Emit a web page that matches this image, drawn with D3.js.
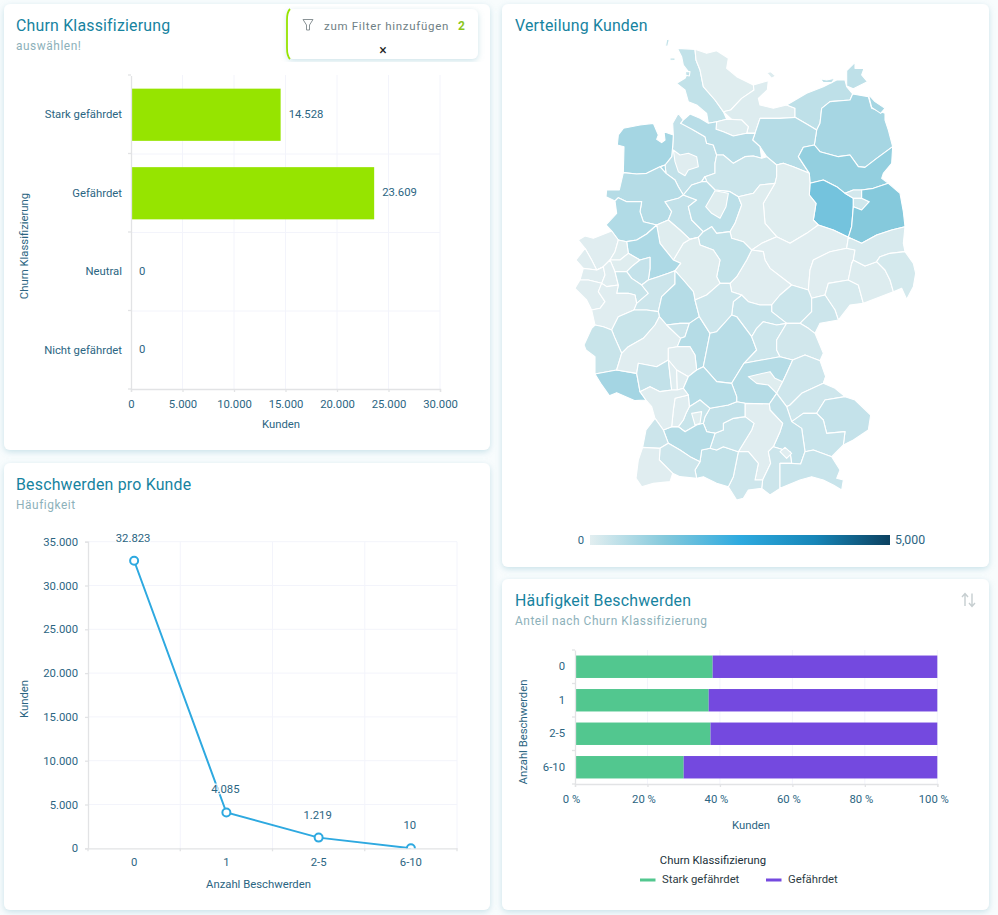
<!DOCTYPE html>
<html>
<head>
<meta charset="utf-8">
<title>Churn Dashboard</title>
<style>
  html, body { margin: 0; padding: 0; background: #f8fcfd; }
  svg { display: block; }
  text { font-family: Roboto, sans-serif; }
  .title { font-size: 15.9px; fill: #17839f; letter-spacing: .2px; }
  .sub { font-size: 11.9px; fill: #8db1ba; letter-spacing: .55px; }
  .lbl { font-size: 11.3px; fill: #2b6582; }
  .grid line { stroke: #f3f4fb; stroke-width: 1; }
  .axis path, .axis line { stroke: #e2e3e5; stroke-width: 1.3; }
  .axis text { font-size: 11.3px; fill: #2b6582; font-family: Roboto, sans-serif; }
  .region { stroke: #fff; stroke-width: 1.1; stroke-linejoin: round; }
</style>
</head>
<body>
<svg width="998" height="915"></svg>
<script src="https://cdnjs.cloudflare.com/ajax/libs/d3/7.8.5/d3.min.js"></script>
<script>
// chart 1
const churnCategories = ["Stark gefährdet", "Gefährdet", "Neutral", "Nicht gefährdet"];
const churnValues = [14528, 23609, 0, 0];
const churnTicks = [0, 5000, 10000, 15000, 20000, 25000, 30000];

// chart 2
const complaintCategories = ["0", "1", "2-5", "6-10"];
const complaintValues = [32823, 4085, 1219, 10];
const complaintTicks = [0, 5000, 10000, 15000, 20000, 25000, 30000, 35000];

// chart 4, share in percent
const shareStark = [38, 36.9, 37.4, 30];
const shareGefaehrdet = [62, 63.1, 62.6, 70];
const shareTicks = [0, 20, 40, 60, 80, 100];
const shareSeries = ["Stark gefährdet", "Gefährdet"];

// map: customers per region, same order as regionIds
const regionIds = ["a","a1","a2","a3","b","c","c1","d","e","e1","e2","f","f1","g","h","i","j","j1","k",
  "l","l1","m","n","o","p","q","r","s","t","t1","u","v1","v2","w1","w2","w3","x1","x2","y1","y2","y3",
  "z","ra","rb1","rb2","rb3","rc1","rc2","rc3","rd","re","rg","rh","ri","rj","rk","rl","rm","rn","ro","rp",
  "rq","rr1","rr2","th1","th2","th3","ful","rs","rt","ru","rv","rw","rx","ry","rz","sa","sb","sc",
  "sf","sd","se","sg","sh2","si","sj","sk","sl","sm","sn","so","sp","sq","sr","ss"];
const regionValues = [420,420,420,420,40,60,60,60,480,480,480,800,800,600,1050,1480,200,250,1240,
  430,30,560,810,300,40,600,650,430,520,40,40,30,30,30,140,60,130,180,420,40,40,
  700,30,40,40,400,30,30,30,350,30,30,290,600,350,350,830,30,290,600,30,
  430,30,30,300,290,340,280,560,280,230,600,40,260,260,400,340,430,30,
  290,30,340,260,420,340,430,580,350,40,600,30,30,290,270,30];

// these sit inside a neighbour or off the coast, they keep their traced outline
const looseRegions = ["a1","a2","a3","c1","e1","e2","f1","l1","t1","rw","sd","sm"];

// outlines, in trace units
const regionOutlines = {
  a: [[[352,55],[405,58],[408,90],[420,120],[430,170],[465,210],[490,245],[500,268],[470,275],[440,250],[410,225],[385,215],[375,180],[350,160],[375,145],[385,125],[370,105],[365,80]]],
  a1: [[[320,28],[328,30],[322,52],[317,46]]],
  a2: [[[330,84],[345,84],[345,92],[330,90]]],
  a3: [[[376,125],[390,125],[388,138],[378,136]]],
  b: [[[405,58],[440,70],[470,62],[505,85],[500,115],[530,140],[580,165],[582,180],[545,205],[512,240],[490,245],[465,210],[430,170],[420,120],[408,90]]],
  c: [[[582,180],[625,152],[622,180],[595,205],[600,225],[640,235],[680,225],[705,235],[705,262],[660,265],[600,265],[585,310],[565,290],[545,270],[515,268],[512,240],[545,205]]],
  c1: [[[620,128],[632,125],[647,138],[635,145]]],
  d: [[[500,268],[515,268],[545,270],[565,290],[585,310],[560,310],[520,318],[490,305],[468,298]]],
  e: [[[685,215],[740,190],[790,170],[830,150],[855,150],[860,170],[878,192],[870,210],[810,215],[785,235],[780,280],[770,300],[745,285],[705,262],[705,235]]],
  e1: [[[860,122],[885,97],[885,115],[912,115],[905,135],[922,155],[880,176],[860,168]]],
  e2: [[[780,146],[800,150],[825,145],[815,158],[790,158]]],
  f: [[[785,235],[810,215],[870,210],[880,195],[925,200],[935,235],[975,250],[975,270],[985,300],[998,350],[950,385],[915,412],[895,410],[870,375],[835,380],[780,365],[763,345],[770,300],[780,280]]],
  f1: [[[925,193],[945,215],[975,235],[962,250],[935,232]]],
  g: [[[600,265],[660,265],[705,262],[745,285],[770,300],[763,345],[730,352],[715,380],[748,430],[700,410],[670,400],[620,380],[600,350],[578,330],[585,310]]],
  h: [[[730,352],[763,345],[780,365],[835,380],[870,375],[895,410],[915,412],[950,385],[998,350],[995,400],[970,430],[965,445],[985,460],[940,475],[905,480],[880,480],[855,490],[830,470],[790,450],[750,460],[748,430],[715,380]]],
  i: [[[750,460],[790,450],[830,470],[855,490],[880,505],[880,530],[875,590],[865,622],[820,600],[760,570],[768,520],[748,495]]],
  j: [[[855,490],[880,478],[905,480],[905,505],[880,505]]],
  j1: [[[880,505],[905,505],[928,515],[905,540],[880,530]]],
  k: [[[905,480],[940,475],[985,460],[1020,490],[1030,545],[1035,590],[995,600],[950,615],[905,640],[875,622],[880,530],[905,540],[928,515],[905,505]]],
  l: [[[338,280],[355,250],[370,270],[362,280],[400,300],[435,320],[440,340],[460,345],[470,375],[465,400],[465,430],[435,440],[425,455],[395,465],[370,495],[355,470],[345,450],[318,430],[315,405],[335,380],[338,350]]],
  l1: [[[340,360],[360,375],[385,370],[410,380],[415,410],[385,420],[375,437],[355,425],[345,395]]],
  m: [[[362,280],[370,258],[390,252],[420,265],[445,280],[468,298],[490,305],[520,318],[560,310],[585,310],[578,330],[600,350],[605,385],[580,378],[555,380],[520,400],[490,375],[470,375],[460,345],[440,340],[435,320],[400,300]]],
  n: [[[175,315],[190,295],[240,285],[280,280],[295,315],[290,328],[305,338],[315,330],[312,305],[340,315],[338,350],[335,380],[315,405],[318,430],[300,410],[260,430],[230,432],[190,428],[192,350],[172,345]]],
  o: [[[470,375],[490,375],[520,400],[555,380],[580,378],[605,385],[650,405],[675,405],[650,440],[645,460],[600,465],[580,490],[535,500],[510,485],[465,480],[440,455],[435,440],[465,430],[465,400]]],
  p: [[[675,405],[700,410],[748,430],[750,460],[748,495],[768,520],[760,570],[775,585],[740,610],[690,640],[650,620],[615,580],[610,520],[645,460],[650,440]]],
  q: [[[190,428],[230,432],[260,430],[300,410],[318,430],[345,450],[355,470],[370,495],[355,505],[315,515],[335,545],[325,570],[290,585],[250,575],[240,545],[245,515],[200,515],[175,503],[165,513],[138,500],[140,480],[178,480],[180,435]]],
  r: [[[175,503],[200,515],[245,515],[240,545],[250,575],[290,585],[260,612],[230,630],[200,635],[175,630],[138,585],[170,550]]],
  s: [[[315,515],[355,505],[362,500],[410,510],[385,530],[395,570],[430,605],[415,622],[390,628],[360,600],[325,570],[335,545]]],
  t: [[[362,500],[370,495],[395,465],[425,455],[440,455],[465,480],[505,490],[535,500],[545,525],[525,580],[510,605],[470,610],[455,590],[430,605],[395,570],[385,530],[410,510]]],
  t1: [[[437,530],[465,482],[505,490],[498,530],[480,565],[455,550]]],
  u: [[[535,500],[580,490],[600,465],[645,460],[610,520],[615,580],[640,615],[605,640],[575,660],[550,635],[515,625],[510,605],[525,580],[545,525]]],
  v1: [[[605,640],[640,615],[650,620],[690,640],[740,610],[775,585],[820,600],[865,622],[860,655],[810,665],[760,690],[750,720],[755,805],[745,780],[695,765],[630,715],[615,690],[610,665],[575,660]]],
  v2: [[[575,660],[610,665],[615,690],[630,715],[695,765],[660,795],[635,825],[600,825],[565,815],[545,795],[515,785],[530,740],[560,690]]],
  w1: [[[750,720],[760,690],[810,665],[860,655],[885,660],[880,690],[875,700],[865,750],[805,760],[795,795],[760,805],[750,780]]],
  w2: [[[805,760],[865,750],[895,765],[910,820],[870,825],[835,870],[825,840],[795,795]]],
  w3: [[[865,750],[875,700],[915,708],[950,695],[975,720],[990,750],[1000,785],[910,820],[895,765]]],
  x1: [[[860,655],[865,622],[875,622],[905,640],[950,615],[995,600],[1035,590],[1030,640],[1035,665],[990,670],[960,680],[950,695],[915,708],[875,700],[880,690],[885,660]]],
  x2: [[[960,680],[990,670],[1035,665],[1060,700],[1067,730],[1060,770],[1040,808],[1025,775],[1000,785],[990,750],[975,720],[950,695]]],
  y1: [[[415,622],[430,605],[455,590],[470,610],[510,605],[515,625],[550,635],[575,660],[560,690],[530,740],[510,760],[480,760],[470,740],[480,690],[460,660],[420,645]]],
  y2: [[[415,622],[420,645],[460,660],[480,690],[470,740],[480,760],[440,795],[405,810],[400,785],[370,750],[345,722],[362,700],[340,690],[370,640]]],
  y3: [[[290,585],[325,570],[360,600],[390,628],[415,622],[370,640],[340,690],[300,640]]],
  z: [[[230,630],[260,612],[290,585],[300,640],[340,690],[362,700],[345,722],[325,730],[295,740],[265,750],[270,715],[270,682],[240,690],[205,670],[200,635]]],
  ra: [[[55,630],[75,618],[100,625],[155,603],[175,630],[165,665],[150,690],[130,710],[110,720],[95,690],[75,655]]],
  rb1: [[[175,630],[200,635],[205,670],[180,690],[150,690],[165,665]]],
  rb2: [[[180,690],[205,670],[240,690],[215,710],[200,725],[165,725],[150,690]]],
  rb3: [[[215,710],[240,690],[270,682],[270,715],[265,750],[245,765],[215,745],[200,725]]],
  rc1: [[[75,655],[95,690],[110,720],[70,715],[48,690]]],
  rc2: [[[70,715],[110,720],[135,735],[125,760],[85,750],[60,750]]],
  rc3: [[[110,720],[130,710],[150,690],[165,725],[175,765],[140,770],[125,760],[135,735]]],
  rd: [[[165,725],[200,725],[215,745],[245,765],[265,790],[230,820],[225,795],[205,790],[170,790],[175,765]]],
  re: [[[45,775],[60,750],[85,750],[125,760],[115,785],[135,815],[120,835],[95,840],[80,810]]],
  rg: [[[120,835],[135,815],[115,785],[125,760],[140,770],[175,765],[170,790],[205,790],[225,795],[230,820],[222,840],[175,860],[155,900],[105,885],[95,840]]],
  rh: [[[265,750],[295,740],[325,730],[345,722],[345,762],[305,800],[295,845],[260,840],[222,840],[230,820],[265,790],[245,765]]],
  ri: [[[305,800],[345,762],[345,722],[370,750],[400,785],[405,810],[418,860],[388,880],[360,880],[320,885],[298,860],[295,845]]],
  rj: [[[155,900],[175,860],[222,840],[260,840],[295,845],[298,860],[285,885],[250,925],[205,950],[185,970],[165,925]]],
  rk: [[[72,945],[95,895],[105,885],[130,890],[155,900],[165,925],[185,970],[170,1020],[105,1032],[105,980],[78,960]]],
  rl: [[[100,1035],[170,1020],[230,1030],[240,1085],[258,1110],[225,1112],[170,1088],[148,1097],[122,1060]]],
  rm: [[[170,1020],[185,970],[205,950],[250,925],[285,885],[298,860],[320,885],[362,925],[352,950],[325,955],[325,990],[290,1010],[235,1000],[230,1030]]],
  rn: [[[320,885],[360,880],[388,880],[375,920],[362,925]]],
  ro: [[[388,880],[418,860],[450,910],[440,960],[430,1010],[410,1020],[405,975],[390,950],[352,950],[362,925],[375,920]]],
  rp: [[[325,955],[352,950],[390,950],[405,975],[410,1020],[385,1040],[350,1020],[325,990]]],
  rq: [[[230,1030],[235,1000],[290,1010],[325,990],[335,1080],[300,1085],[270,1070],[240,1085]]],
  rr1: [[[325,990],[350,1020],[352,1080],[335,1080]]],
  rr2: [[[350,1020],[385,1040],[410,1020],[420,1025],[370,1075],[352,1080]]],
  th1: [[[695,765],[745,780],[755,805],[755,845],[720,880],[680,880],[635,845],[630,830],[660,795]]],
  th2: [[[795,795],[825,840],[830,870],[780,880],[765,910],[745,895],[720,880],[755,845],[755,805]]],
  th3: [[[545,795],[565,815],[600,825],[635,845],[680,880],[650,885],[610,875],[590,895],[575,920],[530,860],[515,855],[520,815]]],
  ful: [[[480,760],[510,760],[515,785],[545,795],[520,815],[515,855],[470,905],[450,910],[418,860],[405,810],[440,795]]],
  rs: [[[450,910],[470,905],[515,855],[530,860],[575,920],[590,960],[552,1000],[515,1060],[470,1055],[435,1012],[430,1010],[440,960]]],
  rt: [[[590,895],[610,875],[650,885],[680,880],[650,930],[650,960],[660,980],[605,990],[552,1000],[590,960],[575,920]]],
  ru: [[[680,880],[720,880],[745,895],[790,970],[780,992],[735,975],[698,990],[660,980],[650,960],[650,930]]],
  rv: [[[515,1060],[552,1000],[605,990],[660,980],[698,990],[680,1030],[668,1055],[650,1090],[628,1122],[555,1120],[530,1115],[530,1100]]],
  rw: [[[565,1040],[630,1025],[645,1045],[668,1055],[650,1090],[625,1065],[590,1060]]],
  rx: [[[698,990],[735,975],[780,992],[797,1040],[790,1060],[725,1090],[690,1125],[680,1130],[650,1090],[668,1055],[680,1030]]],
  ry: [[[797,1040],[825,1075],[855,1100],[795,1110],[770,1150],[730,1150],[695,1175],[680,1130],[690,1125],[725,1090],[790,1060]]],
  rz: [[[795,1110],[855,1100],[885,1110],[932,1155],[925,1200],[880,1230],[850,1245],[855,1205],[800,1210],[790,1170],[770,1150]]],
  sa: [[[695,1175],[730,1150],[770,1150],[790,1170],[800,1210],[855,1205],[850,1245],[815,1280],[760,1260],[735,1265],[725,1195]]],
  sb: [[[628,1122],[650,1090],[680,1130],[695,1175],[725,1195],[735,1265],[722,1302],[695,1300],[690,1265],[640,1250],[660,1205],[668,1180],[630,1140]]],
  sc: [[[555,1120],[628,1122],[630,1140],[668,1180],[660,1205],[640,1250],[625,1265],[632,1300],[608,1350],[585,1350],[595,1300],[565,1265],[535,1265],[575,1200],[582,1180],[555,1160]]],
  sf: [[[640,1250],[690,1265],[695,1300],[660,1300],[660,1375],[630,1395],[605,1375],[608,1350],[632,1300],[625,1265]]],
  sd: [[[660,1265],[675,1252],[695,1270],[680,1285]]],
  se: [[[660,1300],[695,1300],[722,1302],[735,1265],[760,1260],[815,1280],[840,1320],[830,1345],[850,1350],[845,1380],[820,1365],[790,1350],[755,1340],[720,1350],[660,1375]]],
  sg: [[[525,1270],[535,1265],[565,1265],[595,1300],[585,1350],[608,1350],[605,1375],[565,1380],[550,1405],[530,1410],[505,1370],[520,1340]]],
  sh2: [[[425,1260],[450,1255],[470,1260],[490,1250],[525,1270],[520,1340],[505,1370],[470,1360],[430,1340],[405,1320],[420,1295]]],
  si: [[[490,1180],[520,1165],[555,1160],[582,1180],[575,1200],[535,1265],[525,1270],[490,1250],[470,1260],[450,1255],[465,1210],[490,1200]]],
  sj: [[[435,1160],[450,1135],[505,1125],[530,1115],[555,1120],[555,1160],[520,1165],[490,1180],[490,1200],[465,1210],[430,1180]]],
  sk: [[[370,1075],[420,1025],[435,1012],[470,1055],[515,1060],[530,1100],[530,1115],[505,1125],[450,1135],[420,1110],[388,1130],[385,1095]]],
  sl: [[[388,1130],[420,1110],[450,1135],[435,1160],[430,1180],[465,1210],[440,1205],[410,1185],[375,1205],[370,1170],[378,1150]]],
  sm: [[[395,1150],[425,1145],[420,1180],[405,1185]]],
  sn: [[[310,1200],[335,1190],[355,1190],[375,1205],[410,1185],[440,1205],[465,1210],[450,1255],[425,1260],[420,1295],[390,1280],[360,1260],[325,1240]]],
  so: [[[345,1105],[385,1095],[388,1130],[378,1150],[370,1170],[375,1205],[355,1190],[335,1190],[340,1140]]],
  sp: [[[258,1110],[240,1085],[270,1070],[300,1085],[335,1080],[352,1080],[370,1075],[385,1095],[345,1105],[340,1140],[335,1190],[310,1200],[285,1165],[275,1130]]],
  sq: [[[285,1165],[310,1200],[325,1240],[300,1255],[248,1252],[258,1200]]],
  sr: [[[300,1258],[325,1240],[360,1260],[390,1280],[420,1295],[405,1320],[410,1345],[360,1340],[338,1330],[298,1290]]],
  ss: [[[248,1255],[300,1258],[298,1290],[338,1330],[330,1355],[280,1360],[245,1370],[228,1345],[235,1290]]]
};

const legendStops = [0, 1250, 2500, 3750, 5000];
const legendColors = ["#e2eef0", "#84c9dc", "#2eaadf", "#1786b8", "#0c4160"];

// the tracing is by hand, so neighbours do not share their corners: pull corners
// together and add each corner to the neighbour's edge, which closes the slivers
function conformRings(ids, vertexTol, edgeTol) {
  const rings = {};
  ids.forEach(id => { rings[id] = regionOutlines[id][0].map(p => p.slice()); });
  const shared = ids.filter(id => looseRegions.indexOf(id) < 0);

  shared.forEach((a, i) => {
    shared.slice(i + 1).forEach(b => {
      rings[a].forEach(p => {
        rings[b].forEach(q => {
          if (Math.hypot(p[0] - q[0], p[1] - q[1]) < vertexTol) { q[0] = p[0]; q[1] = p[1]; }
        });
      });
    });
  });

  for (let pass = 0; pass < 2; pass++) {
    shared.forEach(a => {
      const out = [];
      rings[a].forEach((p, k) => {
        const q = rings[a][(k + 1) % rings[a].length];
        const dx = q[0] - p[0], dy = q[1] - p[1], len2 = dx * dx + dy * dy;
        out.push(p);
        if (!len2) return;
        const extra = [];
        shared.forEach(b => {
          if (b === a) return;
          rings[b].forEach(v => {
            const t = ((v[0] - p[0]) * dx + (v[1] - p[1]) * dy) / len2;
            if (t <= 0.02 || t >= 0.98) return;
            const d = Math.hypot(p[0] + t * dx - v[0], p[1] + t * dy - v[1]);
            if (d < edgeTol) extra.push({ t: t, v: v });
          });
        });
        extra.sort((m, n) => m.t - n.t).forEach(e => out.push(e.v.slice()));
      });
      rings[a] = out;
    });
  }
  return rings;
}

const de = d3.formatLocale({ decimal: ",", thousands: ".", grouping: [3], currency: ["", "€"] });
const fmt = de.format(",d");

const svg = d3.select("svg");
const defs = svg.append("defs");

const shadow = defs.append("filter").attr("id", "shadow")
  .attr("x", "-5%").attr("y", "-5%").attr("width", "110%").attr("height", "110%");
shadow.append("feDropShadow").attr("dx", 0).attr("dy", 2).attr("stdDeviation", 3)
  .attr("flood-color", "#7fb9c9").attr("flood-opacity", 0.4);

const cards = [[4, 4, 486, 446], [4, 463, 486, 447], [502, 4, 487, 563], [502, 579, 487, 331]];
svg.selectAll("rect.card").data(cards).enter().append("rect")
  .attr("class", "card")
  .attr("x", d => d[0]).attr("y", d => d[1])
  .attr("width", d => d[2]).attr("height", d => d[3])
  .attr("rx", 6).attr("fill", "#fff").attr("filter", "url(#shadow)");

function heading(x, y, title, sub) {
  svg.append("text").attr("class", "title").attr("x", x).attr("y", y).text(title);
  if (sub) svg.append("text").attr("class", "sub").attr("x", x).attr("y", y + 19).text(sub);
}
heading(16, 31, "Churn Klassifizierung", "auswählen!");
heading(16, 490, "Beschwerden pro Kunde", "Häufigkeit");
heading(515, 31, "Verteilung Kunden");
heading(515, 606, "Häufigkeit Beschwerden", "Anteil nach Churn Klassifizierung");

function label(x, y, str, anchor, rotate) {
  const t = svg.append("text").attr("class", "lbl")
    .attr("text-anchor", anchor || "middle").attr("dominant-baseline", "middle");
  if (rotate) t.attr("transform", "translate(" + x + "," + y + ") rotate(-90)");
  else t.attr("x", x).attr("y", y);
  return t.text(str);
}

// ---- chart 1
const x1 = d3.scaleLinear().domain([0, 30000]).range([131, 440]);
const y1 = d3.scaleBand().domain(churnCategories).range([75.5, 389.5]).paddingInner(0.335).paddingOuter(0.1675);

svg.append("g").attr("class", "grid").selectAll("line").data(churnTicks.slice(1)).enter().append("line")
  .attr("x1", d => x1(d)).attr("x2", d => x1(d)).attr("y1", 75).attr("y2", 389);
svg.append("g").attr("class", "grid").selectAll("line").data(churnCategories.slice(1)).enter().append("line")
  .attr("x1", 131).attr("x2", 440)
  .attr("y1", d => y1(d) - y1.step() * y1.paddingInner() / 2)
  .attr("y2", d => y1(d) - y1.step() * y1.paddingInner() / 2);

svg.append("g").selectAll("rect").data(churnCategories).enter().append("rect")
  .attr("x", x1(0))
  .attr("y", d => y1(d))
  .attr("width", (d, i) => x1(churnValues[i]) - x1(0))
  .attr("height", y1.bandwidth())
  .attr("fill", "#96e400");

svg.append("g").attr("class", "axis").attr("transform", "translate(0,389)")
  .call(d3.axisBottom(x1).tickValues(churnTicks).tickFormat(fmt).tickSize(3).tickPadding(8));
const y1Axis = svg.append("g").attr("class", "axis").attr("transform", "translate(131,0)")
  .call(d3.axisLeft(y1).tickSize(0).tickPadding(9));
y1Axis.selectAll(".edge").data(d3.range(5)).enter().append("line").attr("class", "edge")
  .attr("x1", -3).attr("x2", 0)
  .attr("y1", d => 75 + d * y1.step()).attr("y2", d => 75 + d * y1.step());

churnCategories.forEach((c, i) => {
  label(x1(churnValues[i]) + 8, y1(c) + y1.bandwidth() / 2, fmt(churnValues[i]), "start");
});
label(281, 425, "Kunden");
label(25, 246, "Churn Klassifizierung", "middle", true);

// filter box
svg.append("rect").attr("x", 287).attr("y", 9).attr("width", 191).attr("height", 50)
  .attr("rx", 6).attr("fill", "#fff").attr("filter", "url(#shadow)");
svg.append("path").attr("d", "M290,9 Q287,12 287,20 L287,48 Q287,56 290,59")
  .attr("fill", "none").attr("stroke", "#96e400").attr("stroke-width", 1.8);
svg.append("path").attr("d", "M303,19.5 L313,19.5 L309.5,25 L309.5,30 L306.5,30 L306.5,25 Z")
  .attr("fill", "none").attr("stroke", "#8a9396").attr("stroke-width", 1);
svg.append("text").attr("x", 324).attr("y", 29.5).attr("font-size", "11.5px").attr("letter-spacing", ".7px")
  .attr("fill", "#6f7f85").text("zum Filter hinzufügen");
svg.append("text").attr("x", 458).attr("y", 30).attr("font-size", "12px").attr("font-weight", 700)
  .attr("fill", "#8bc61c").text("2");
svg.append("text").attr("x", 383).attr("y", 55).attr("text-anchor", "middle").attr("font-size", "14px")
  .attr("fill", "#222").text("×");

// ---- chart 2
const x2 = d3.scaleBand().domain(complaintCategories).range([88, 457]);
const y2 = d3.scaleLinear().domain([0, 35000]).range([848.3, 541.7]);

svg.append("g").attr("class", "grid").selectAll("line").data(complaintTicks.slice(1)).enter().append("line")
  .attr("x1", 88).attr("x2", 457).attr("y1", d => y2(d)).attr("y2", d => y2(d));
svg.append("g").attr("class", "grid").selectAll("line").data(complaintCategories).enter().append("line")
  .attr("x1", d => x2(d) + x2.step()).attr("x2", d => x2(d) + x2.step()).attr("y1", 541.7).attr("y2", 848.3);

svg.append("g").attr("class", "axis").attr("transform", "translate(88,0)")
  .call(d3.axisLeft(y2).tickValues(complaintTicks).tickFormat(fmt).tickSize(3).tickPadding(7));
const x2Axis = svg.append("g").attr("class", "axis").attr("transform", "translate(0,848.3)")
  .call(d3.axisBottom(x2).tickSize(0).tickPadding(10));
x2Axis.selectAll(".edge").data(d3.range(5)).enter().append("line").attr("class", "edge")
  .attr("x1", d => 88 + d * x2.step()).attr("x2", d => 88 + d * x2.step()).attr("y1", 0).attr("y2", 3);

defs.append("clipPath").attr("id", "plot2").append("rect")
  .attr("x", 88).attr("y", 530).attr("width", 369).attr("height", 318.3);
const lineG = svg.append("g").attr("clip-path", "url(#plot2)");
const pts = complaintCategories.map((c, i) => [x2(c) + x2.bandwidth() / 2, y2(complaintValues[i])]);
lineG.append("path").attr("d", d3.line()(pts)).attr("fill", "none")
  .attr("stroke", "#2ea9e0").attr("stroke-width", 2);
lineG.selectAll("circle").data(pts).enter().append("circle")
  .attr("cx", d => d[0]).attr("cy", d => d[1]).attr("r", 4)
  .attr("fill", "#fff").attr("stroke", "#2ea9e0").attr("stroke-width", 2);
pts.forEach((p, i) => {
  label(p[0] - 1, p[1] - 22, fmt(complaintValues[i]))
    .attr("fill", "#2b5a72")
    .style("paint-order", "stroke").style("stroke", "rgba(255,255,255,.75)").style("stroke-width", "3px");
});
label(258.5, 885, "Anzahl Beschwerden");
label(25, 699, "Kunden", "middle", true);

// ---- map
const colour = d3.scaleLinear().domain(legendStops).range(legendColors);
const mapProjection = d3.geoIdentity().scale(1 / 3).translate([560, 30]);
const mapPath = d3.geoPath(mapProjection);
const rings = conformRings(regionIds, 13, 20);
const regions = regionIds.map((id, i) => ({
  type: "Feature", properties: { id: id, value: regionValues[i] },
  // geoPath wants closed rings
  geometry: { type: "Polygon", coordinates: [rings[id].concat([rings[id][0]])] }
}));
svg.append("g").selectAll("path").data(regions).enter().append("path")
  .attr("class", "region")
  .attr("d", mapPath)
  .attr("fill", d => colour(d.properties.value));

const grad = defs.append("linearGradient").attr("id", "legend");
grad.selectAll("stop").data(legendStops).enter().append("stop")
  .attr("offset", d => (d / 5000 * 100) + "%")
  .attr("stop-color", d => colour(d));
svg.append("rect").attr("x", 590).attr("y", 535).attr("width", 300).attr("height", 10).attr("fill", "url(#legend)");
label(581, 541, "0");
label(895, 541, d3.format(",")(5000), "start").style("font-size", "12.3px");

// ---- chart 4
const x4 = d3.scaleLinear().domain([0, 100]).range([575, 937.3]);
const y4 = d3.scaleBand().domain(complaintCategories).range([650, 784]).paddingInner(0.33).paddingOuter(0.165);

svg.append("g").attr("class", "grid").selectAll("line").data(shareTicks.slice(1)).enter().append("line")
  .attr("x1", d => x4(d)).attr("x2", d => x4(d)).attr("y1", 650).attr("y2", 784);

const stackColors = ["#52c78f", "#7449df"];
const g4 = svg.append("g");
complaintCategories.forEach((c, i) => {
  g4.append("rect").attr("x", x4(0)).attr("y", y4(c))
    .attr("width", x4(shareStark[i]) - x4(0)).attr("height", y4.bandwidth()).attr("fill", stackColors[0]);
  g4.append("rect").attr("x", x4(shareStark[i])).attr("y", y4(c))
    .attr("width", x4(shareStark[i] + shareGefaehrdet[i]) - x4(shareStark[i])).attr("height", y4.bandwidth()).attr("fill", stackColors[1]);
});

const x4Axis = svg.append("g").attr("class", "axis").attr("transform", "translate(0,784)")
  .call(d3.axisBottom(x4).tickValues(shareTicks).tickFormat(d => d + " %").tickSize(3).tickPadding(8));
x4Axis.selectAll("text").attr("dx", "-4");
const y4Axis = svg.append("g").attr("class", "axis").attr("transform", "translate(575,0)")
  .call(d3.axisLeft(y4).tickSize(0).tickPadding(10));
y4Axis.selectAll(".edge").data(d3.range(5)).enter().append("line").attr("class", "edge")
  .attr("x1", -3).attr("x2", 0)
  .attr("y1", d => 650 + d * y4.step()).attr("y2", d => 650 + d * y4.step());

label(751, 826, "Kunden");
label(524, 732, "Anzahl Beschwerden", "middle", true);

label(713, 861.5, "Churn Klassifizierung").style("fill", "#20303a");
[[640, 662], [766, 788]].forEach((pos, i) => {
  svg.append("line").attr("x1", pos[0]).attr("x2", pos[0] + 15.5).attr("y1", 880).attr("y2", 880)
    .attr("stroke", stackColors[i]).attr("stroke-width", 3);
  label(pos[1], 880, shareSeries[i], "start").style("fill", "#2d3c44");
});

// sort icon
svg.append("path")
  .attr("d", "M965,606 L965,594 M962,597 L965,593.5 L968,597 M972,593.5 L972,606 M969,603 L972,606.5 L975,603")
  .attr("fill", "none").attr("stroke", "#c6ced0").attr("stroke-width", 1.4);
</script>
</body>
</html>
